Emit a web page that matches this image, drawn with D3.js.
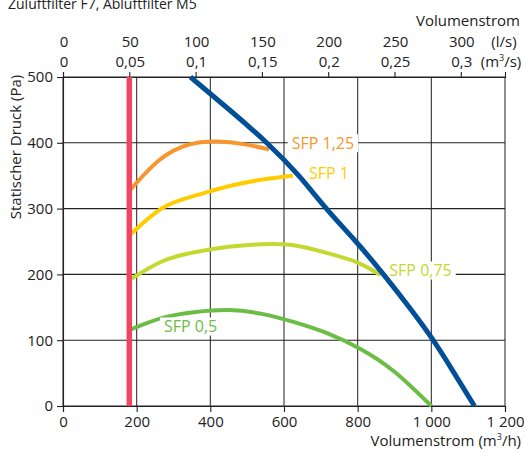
<!DOCTYPE html>
<html><head><meta charset="utf-8">
<script src="https://cdn.jsdelivr.net/npm/d3@7"></script>
<style>
body{margin:0;background:#fff}
svg{display:block;font-family:"Open Sans",sans-serif}
</style>
</head><body>
<svg id="c" width="524" height="453"></svg>
<script>
// ---- data ----
const flowTicks = [0, 200, 400, 600, 800, 1000, 1200];
const flowTickLabels = ["0", "200", "400", "600", "800", "1 000", "1 200"];
const pressureTicks = [0, 100, 200, 300, 400, 500];
const lsTicks = [0, 50, 100, 150, 200, 250, 300];
const lsLabels = ["0", "50", "100", "150", "200", "250", "300"];
const m3sLabels = ["0", "0,05", "0,1", "0,15", "0,2", "0,25", "0,3"];
const minFlow = 180; // m3/h (50 l/s)

const fanCurve = [[346,500],[450,451],[555,399],[640,350],[715,300],[795,250],[870,200],[940,150],[1005,100],[1062,50],[1117,0]];
const sfp125 = [[182,328],[260,373],[340,397],[420,402],[490,398],[560,390]];
const sfp1   = [[182,260],[270,301],[360,320],[450,334],[540,344],[624,350]];
const sfp075 = [[182,192],[270,220],[360,234],[450,242],[540,246],[630,244],[720,232],[800,218],[862,199]];
const sfp05  = [[182,116],[270,134],[360,143],[450,146],[540,140],[630,127],[720,110],[810,86],[900,52],[1000,0]];

const seriesNames = ["SFP 1,25", "SFP 1", "SFP 0,75", "SFP 0,5"];
const labelAnchors = [[621,399],[668,353.5],[886,205.6],[274,120.5]];

const title = "Zuluftfilter F7, Abluftfilter M5";

// ---- layout ----
const svg = d3.select("#c");
const L = 63, R = 505, T = 77, B = 406;
const x = d3.scaleLinear().domain([0, 1200]).range([L, R]);
const y = d3.scaleLinear().domain([0, 500]).range([B, T]);
const xls = d3.scaleLinear().domain([0, 1200 / 3.6]).range([L, R]);

const colors = ["#f7962f", "#ffcc00", "#c3d930", "#6bbd45"];
const blue = "#004f97", red = "#ef4663";
const fs = 15;

// title
svg.append("text").attr("x", 8).attr("y", 9).attr("font-size", 14).attr("fill", "#222").text(title);
svg.append("text").attr("x", 520).attr("y", 26).attr("text-anchor", "end").attr("font-size", fs).attr("fill", "#222").text("Volumenstrom");

// grid
const g = svg.append("g");
g.selectAll(".vg").data(flowTicks).join("line")
  .attr("x1", d => x(d)).attr("x2", d => x(d)).attr("y1", T).attr("y2", B)
  .attr("stroke", "#333").attr("stroke-width", 1.1);
g.selectAll(".hg").data(pressureTicks).join("line")
  .attr("x1", L).attr("x2", R).attr("y1", d => y(d)).attr("y2", d => y(d))
  .attr("stroke", "#222").attr("stroke-width", 1.1);

// axes
const xAxis = svg.append("g").attr("transform", `translate(0,${B})`)
  .call(d3.axisBottom(x).tickValues(flowTicks).tickFormat((d, i) => flowTickLabels[i]).tickSize(6).tickPadding(4));
const yAxis = svg.append("g").attr("transform", `translate(${L},0)`)
  .call(d3.axisLeft(y).tickValues(pressureTicks).tickSize(6).tickPadding(4));
const topAxis = svg.append("g").attr("transform", `translate(0,${T})`)
  .call(d3.axisTop(xls).tickValues(lsTicks).tickSize(5).tickFormat(""));
[xAxis, yAxis, topAxis].forEach(a => {
  a.select(".domain").attr("stroke", "#222").attr("stroke-width", 1.1);
  a.selectAll(".tick line").attr("stroke", "#222").attr("stroke-width", 1.1);
  a.selectAll("text").attr("font-size", fs).attr("fill", "#222").attr("font-family", '"Open Sans",sans-serif');
});

// top labels (two rows)
svg.append("g").selectAll("text").data(lsTicks).join("text")
  .attr("x", d => xls(d) + 1).attr("y", 47).attr("text-anchor", "middle")
  .attr("font-size", fs).attr("fill", "#222").text((d, i) => lsLabels[i]);
svg.append("g").selectAll("text").data(lsTicks).join("text")
  .attr("x", d => xls(d) + 1).attr("y", 67).attr("text-anchor", "middle")
  .attr("font-size", fs).attr("fill", "#222").text((d, i) => m3sLabels[i]);
svg.append("text").attr("x", 504).attr("y", 47).attr("text-anchor", "middle").attr("font-size", fs).attr("fill", "#222").text("(l/s)");
const u = svg.append("text").attr("x", 501).attr("y", 67).attr("text-anchor", "middle").attr("font-size", fs).attr("fill", "#222");
u.append("tspan").text("(m");
u.append("tspan").attr("font-size", 9).attr("dy", -6).text("3");
u.append("tspan").attr("dy", 6).text("/s)");

// axis titles
const xt = svg.append("text").attr("x", 521).attr("y", 446).attr("text-anchor", "end").attr("font-size", fs).attr("fill", "#222");
xt.append("tspan").text("Volumenstrom (m");
xt.append("tspan").attr("font-size", 9).attr("dy", -6).text("3");
xt.append("tspan").attr("dy", 6).text("/h)");
svg.append("text").attr("transform", "translate(21,147) rotate(-90)").attr("text-anchor", "middle")
  .attr("font-size", fs).attr("fill", "#222").text("Statischer Druck (Pa)");

// curves
const sfpLine = d3.line().x(d => x(d[0])).y(d => y(d[1])).curve(d3.curveNatural);
const allSeries = [sfp125, sfp1, sfp075, sfp05];
svg.append("g").selectAll("path").data(allSeries).join("path")
  .attr("d", sfpLine).attr("fill", "none").attr("stroke", (d, i) => colors[i])
  .attr("stroke-width", 4).attr("stroke-linecap", "butt");

// minimum flow line
svg.append("line").attr("x1", x(minFlow)).attr("x2", x(minFlow)).attr("y1", T).attr("y2", B)
  .attr("stroke", red).attr("stroke-width", 5.5);

// labels with white background
const lg = svg.append("g");
seriesNames.forEach((n, i) => {
  const [lx, ly] = labelAnchors[i];
  const t = lg.append("text").attr("x", x(lx)).attr("y", y(ly)).attr("dy", "0.36em")
    .attr("font-size", 16).attr("fill", colors[i]).text(n);
  const bb = t.node().getBBox();
  lg.insert("rect", "text").attr("x", bb.x - 4).attr("y", bb.y + 2).attr("width", bb.width + 8).attr("height", bb.height - 4).attr("fill", "#fff");
});

// fan curve
const fanLine = d3.line().x(d => x(d[0])).y(d => y(d[1])).curve(d3.curveNatural);
svg.append("path").datum(fanCurve).attr("d", fanLine).attr("fill", "none")
  .attr("stroke", blue).attr("stroke-width", 5);
</script>
</body></html>
